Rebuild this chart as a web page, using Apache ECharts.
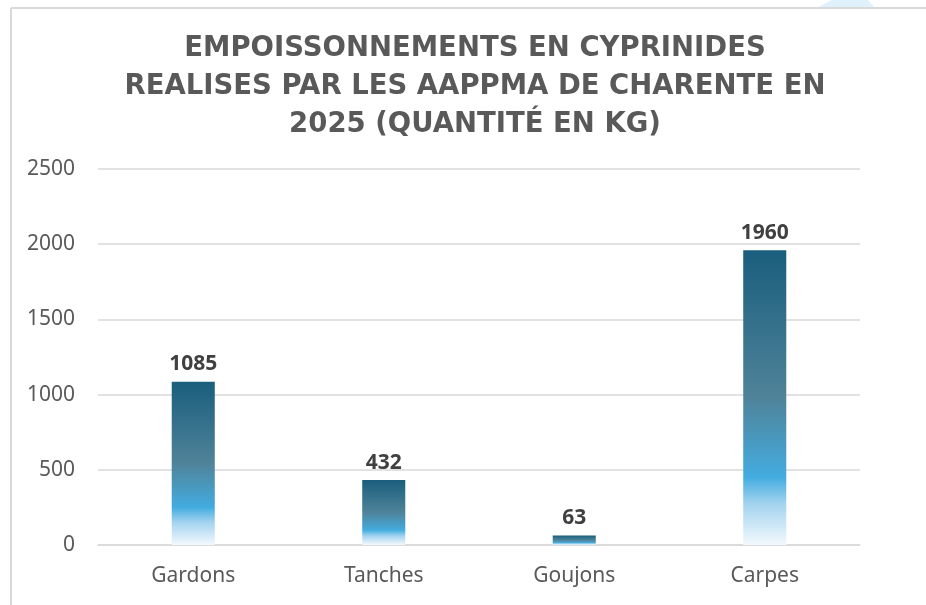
<!DOCTYPE html>
<html>
<head>
    <meta charset="UTF-8">
    <title>Empoissonnements cyprinides</title>
    <style>
        html, body { margin: 0; padding: 0; background: #fff; }
        #main { width: 926px; height: 605px; }
    </style>
</head>
<body>
<div id="main"></div>
<script src="https://cdn.jsdelivr.net/npm/echarts@6/dist/echarts.min.js"></script>
<script>
    // especes et quantites (kg)
    var categories = ['Gardons', 'Tanches', 'Goujons', 'Carpes'];
    var quantites = [1085, 432, 63, 1960];
    var yTicks = [0, 500, 1000, 1500, 2000, 2500];

    var titre = 'EMPOISSONNEMENTS EN CYPRINIDES\nREALISES PAR LES AAPPMA DE CHARENTE EN\n2025 (QUANTITÉ EN KG)';

    var chart = echarts.init(document.getElementById('main'));

    // degrade du haut vers le bas de chaque barre
    var degrade = new echarts.graphic.LinearGradient(0, 0, 0, 1, [
        {offset: 0, color: '#1a5e7d'},
        {offset: 0.5, color: '#4f8399'},
        {offset: 0.77, color: '#43ace0'},
        {offset: 0.86, color: '#a3d3ef'},
        {offset: 1, color: '#f3f9fd'}
    ]);

    var option = {
        animation: false,
        title: {
            text: titre,
            left: 470,
            textAlign: 'center',
            top: 25,
            textStyle: {
                fontFamily: 'DejaVu Sans',
                fontWeight: 'bold',
                fontSize: 27.5,
                lineHeight: 38,
                color: '#595959'
            }
        },
        graphic: [
            // bordure du cadre
            {type: 'line', shape: {x1: 11, y1: 8, x2: 926, y2: 8}, style: {stroke: '#d9d9d9', lineWidth: 2}},
            {type: 'line', shape: {x1: 11, y1: 8, x2: 11, y2: 605}, style: {stroke: '#d9d9d9', lineWidth: 2}},
            // petite tache decorative en haut a droite
            {type: 'polygon', shape: {points: [[818, 7], [832, 0], [868, 0], [874, 7]]}, style: {fill: '#dff1fa'}}
        ],
        grid: {
            left: 98,
            right: 66,
            top: 169,
            bottom: 60
        },
        xAxis: {
            type: 'category',
            data: categories,
            axisTick: {show: false},
            axisLine: {lineStyle: {color: '#d9d9d9', width: 1.5}},
            axisLabel: {
                color: '#595959',
                fontFamily: 'Noto Sans',
                fontSize: 21,
                margin: 21
            }
        },
        yAxis: {
            type: 'value',
            min: yTicks[0],
            max: yTicks[yTicks.length - 1],
            interval: yTicks[1] - yTicks[0],
            axisLine: {show: false},
            axisTick: {show: false},
            splitLine: {lineStyle: {color: '#d9d9d9', width: 1.5}},
            axisLabel: {
                color: '#595959',
                fontFamily: 'Noto Sans',
                fontSize: 21,
                margin: 23,
                formatter: function (v) { return String(v); }
            }
        },
        series: [{
            type: 'bar',
            data: quantites,
            barWidth: '22.6%',
            itemStyle: {color: degrade},
            label: {
                show: true,
                position: 'top',
                distance: 7,
                color: '#404040',
                fontFamily: 'Noto Sans',
                fontWeight: 'bold',
                fontSize: 21
            }
        }]
    };

    chart.setOption(option);
</script>
</body>
</html>
